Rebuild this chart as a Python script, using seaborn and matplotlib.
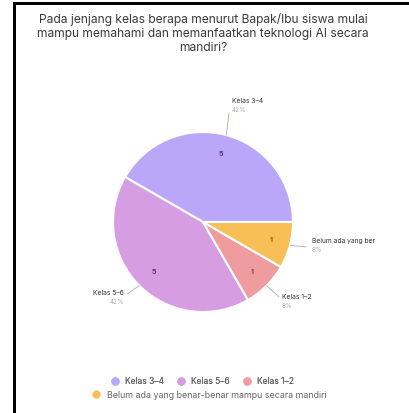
import numpy as np
import matplotlib
matplotlib.use("Agg")
import matplotlib.pyplot as plt
from matplotlib.lines import Line2D
import seaborn as sns

sns.set_style("white")
plt.rcParams['font.family'] = ['Inter', 'DejaVu Sans']

# data
title = ("Pada jenjang kelas berapa menurut Bapak/Ibu siswa mulai\n"
         "mampu memahami dan memanfaatkan teknologi AI secara\n"
         "mandiri?")
categories = ["Kelas 3\u20134", "Kelas 5\u20136", "Kelas 1\u20132",
              "Belum ada yang benar-benar mampu secara mandiri"]
slice_labels = ["Kelas 3\u20134", "Kelas 5\u20136", "Kelas 1\u20132", "Belum ada yang ber"]
counts = [5, 5, 1, 1]
percents = ["42%", "42%", "8%", "8%"]

colors = ["#bba7f8", "#d79de2", "#ee9c9e", "#f7bf55"]
dark_colors = ["#4b3390", "#6a2f7a", "#8a3a3c", "#8a5a10"]

W, H = 409, 413
fig = plt.figure(figsize=(W / 100, H / 100), dpi=100)
fig.patch.set_facecolor("white")

# frame lines of the cell, drawn in pixel coords
bg = fig.add_axes([0, 0, 1, 1])
bg.set_xlim(0, W)
bg.set_ylim(H, 0)
bg.axis("off")
bg.fill_between([13, 16], [2, 2], [H, H], color="black", lw=0)
bg.fill_between([13, W], [1.5, 1.5], [5, 5], color="black", lw=0)

fig.text(203 / W, 1 - 13 / H, title, ha="center", va="top", fontsize=8.7,
         color="#3a3a3a", linespacing=1.22)

cx, cy, r = 203, 222, 90
ax = fig.add_axes([(cx - r) / W, (H - cy - r) / H, 2 * r / W, 2 * r / H])
wedges, _ = ax.pie(counts, colors=colors, startangle=0, counterclock=True,
                   wedgeprops=dict(edgecolor="white", linewidth=1.5))
ax.set_xlim(-1, 1)
ax.set_ylim(-1, 1)
ax.axis("off")

total = sum(counts)
start = 0.0
# label positions in pixels: (line end x, y, text x, text y, ha)
outer = [(229, 113, 232, 101, "left"),
         (127, 294, 124, 293, "right"),
         (279, 297, 282, 297, "left"),
         (306, 247, 312, 241, "left")]
for i, c in enumerate(counts):
    span = 360.0 * c / total
    mid = np.deg2rad(start + span / 2)
    start += span
    ax.text(0.78 * np.cos(mid), 0.78 * np.sin(mid), str(c), ha="center", va="center",
            fontsize=5, fontweight="bold", color=dark_colors[i])
    ex, ey = np.cos(mid), np.sin(mid)
    lx, ly, tx, ty, ha = outer[i]
    px = (lx - cx) / r
    py = (cy - ly) / r
    ax.plot([ex, px], [ey, py], color="#9ab89a", lw=0.6, clip_on=False)
    ax.text((tx - cx) / r, (cy - ty) / r, slice_labels[i], ha=ha, va="center",
            fontsize=4.8, color="#333333", clip_on=False)
    ax.text((tx - cx) / r, (cy - ty - 9) / r, percents[i], ha=ha, va="center",
            fontsize=4.6, color="#aaaaaa", clip_on=False)

handles = [Line2D([], [], marker="o", ls="", markersize=5, markerfacecolor=colors[i],
                  markeredgecolor=colors[i]) for i in range(4)]
leg1 = fig.legend(handles[:3], categories[:3], loc="center", bbox_to_anchor=(200 / W, 1 - 381 / H),
                  ncol=3, frameon=False, fontsize=6.1, handletextpad=0.2, columnspacing=1.0,
                  labelcolor="#666666")
leg2 = fig.legend(handles[3:], categories[3:], loc="center", bbox_to_anchor=(207 / W, 1 - 395 / H),
                  ncol=1, frameon=False, fontsize=6.4, handletextpad=0.2,
                  labelcolor="#666666")
fig.add_artist(leg1)

fig.savefig("out.png", dpi=100, facecolor="white")
